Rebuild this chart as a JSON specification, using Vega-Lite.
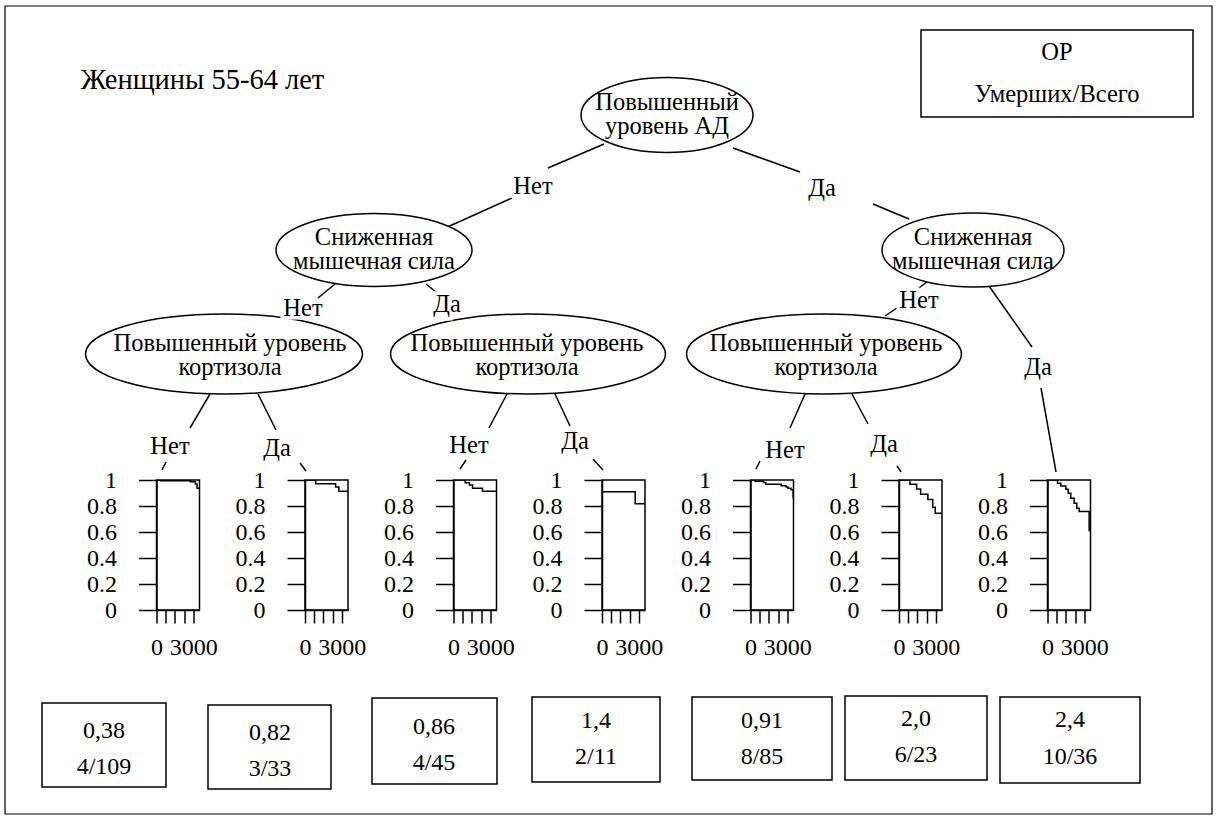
{
  "$schema": "https://vega.github.io/schema/vega-lite/v6.json",
  "padding": 0,
  "background": "white",
  "bounds": "flush",
  "spacing": 105.5,
  "config": {
    "view": {"stroke": null},
    "font": "Liberation Serif",
    "text": {"font": "Liberation Serif"},
    "axis": {
      "labelFont": "Liberation Serif",
      "labelFontSize": 24,
      "labelColor": "black",
      "tickColor": "black",
      "domainColor": "black",
      "tickWidth": 1.5,
      "domainWidth": 1.5,
      "grid": false,
      "labelFlush": false,
      "labelOverlap": false,
      "labelBound": false
    }
  },
  "datasets": {
    "edges": [
      {"x": 604, "y": 144, "x2": 548, "y2": 168},
      {"x": 512, "y": 198, "x2": 443, "y2": 229},
      {"x": 733, "y": 148, "x2": 800, "y2": 172},
      {"x": 873, "y": 204, "x2": 909, "y2": 219},
      {"x": 335, "y": 284, "x2": 318, "y2": 298},
      {"x": 426, "y": 284, "x2": 441, "y2": 296},
      {"x": 932, "y": 278, "x2": 915, "y2": 291},
      {"x": 897, "y": 308, "x2": 885, "y2": 316},
      {"x": 989, "y": 286, "x2": 1032, "y2": 347},
      {"x": 1041, "y": 388, "x2": 1056, "y2": 472},
      {"x": 210, "y": 394, "x2": 190, "y2": 428},
      {"x": 166, "y": 462, "x2": 162, "y2": 470},
      {"x": 258, "y": 394, "x2": 276, "y2": 430},
      {"x": 300, "y": 463, "x2": 306, "y2": 471},
      {"x": 507, "y": 394, "x2": 489, "y2": 428},
      {"x": 466, "y": 460, "x2": 460, "y2": 469},
      {"x": 555, "y": 394, "x2": 570, "y2": 426},
      {"x": 593, "y": 459, "x2": 603, "y2": 470},
      {"x": 805, "y": 394, "x2": 790, "y2": 428},
      {"x": 760, "y": 461, "x2": 756, "y2": 469},
      {"x": 852, "y": 394, "x2": 868, "y2": 424},
      {"x": 897, "y": 466, "x2": 901, "y2": 472}
    ],
    "outlines": [
      {"id": "root", "x": 667, "y": 115},
      {"id": "sila_net", "x": 374, "y": 250},
      {"id": "sila_da", "x": 973, "y": 250},
      {"id": "kort_1", "x": 224, "y": 354},
      {"id": "kort_2", "x": 528, "y": 354},
      {"id": "kort_3", "x": 824, "y": 354},
      {"id": "legend", "x": 1057, "y": 73.5},
      {"id": "b1", "x": 104, "y": 745},
      {"id": "b2", "x": 269.5, "y": 747},
      {"id": "b3", "x": 434.5, "y": 741},
      {"id": "b4", "x": 596, "y": 739.5},
      {"id": "b5", "x": 762, "y": 738.5},
      {"id": "b6", "x": 916, "y": 738},
      {"id": "b7", "x": 1070, "y": 740}
    ],
    "labels": [
      {"kind": "title", "text": "Женщины 55-64 лет", "x": 202.5, "y": 80},
      {"kind": "legend", "text": "ОР", "x": 1057, "y": 53},
      {"kind": "legend", "text": "Умерших/Всего", "x": 1057, "y": 95},
      {"kind": "node", "text": "Повышенный", "x": 667, "y": 103},
      {"kind": "node", "text": "уровень АД", "x": 667, "y": 127},
      {"kind": "node", "text": "Сниженная", "x": 374, "y": 238},
      {"kind": "node", "text": "мышечная сила", "x": 374, "y": 262},
      {"kind": "node", "text": "Сниженная", "x": 973, "y": 238},
      {"kind": "node", "text": "мышечная сила", "x": 973, "y": 262},
      {"kind": "node", "text": "Повышенный уровень", "x": 230, "y": 344},
      {"kind": "node", "text": "кортизола", "x": 230, "y": 368},
      {"kind": "node", "text": "Повышенный уровень", "x": 527, "y": 344},
      {"kind": "node", "text": "кортизола", "x": 527, "y": 368},
      {"kind": "node", "text": "Повышенный уровень", "x": 826, "y": 344},
      {"kind": "node", "text": "кортизола", "x": 826, "y": 368},
      {"kind": "edge", "text": "Нет", "x": 533, "y": 187},
      {"kind": "edge", "text": "Да", "x": 822, "y": 189},
      {"kind": "edge", "text": "Нет", "x": 303, "y": 309},
      {"kind": "edge", "text": "Да", "x": 447, "y": 305},
      {"kind": "edge", "text": "Нет", "x": 919, "y": 301},
      {"kind": "edge", "text": "Да", "x": 1038, "y": 368},
      {"kind": "edge", "text": "Нет", "x": 170, "y": 447},
      {"kind": "edge", "text": "Да", "x": 277, "y": 449},
      {"kind": "edge", "text": "Нет", "x": 469, "y": 446},
      {"kind": "edge", "text": "Да", "x": 575, "y": 442},
      {"kind": "edge", "text": "Нет", "x": 785, "y": 451},
      {"kind": "edge", "text": "Да", "x": 884, "y": 445},
      {"kind": "box", "text": "0,38", "x": 104, "y": 731},
      {"kind": "box", "text": "4/109", "x": 104, "y": 767},
      {"kind": "box", "text": "0,82", "x": 270, "y": 733},
      {"kind": "box", "text": "3/33", "x": 270, "y": 769},
      {"kind": "box", "text": "0,86", "x": 434, "y": 727},
      {"kind": "box", "text": "4/45", "x": 434, "y": 763},
      {"kind": "box", "text": "1,4", "x": 596, "y": 721},
      {"kind": "box", "text": "2/11", "x": 596, "y": 757},
      {"kind": "box", "text": "0,91", "x": 762, "y": 721},
      {"kind": "box", "text": "8/85", "x": 762, "y": 757},
      {"kind": "box", "text": "2,0", "x": 916, "y": 719},
      {"kind": "box", "text": "6/23", "x": 916, "y": 755},
      {"kind": "box", "text": "2,4", "x": 1070, "y": 720},
      {"kind": "box", "text": "10/36", "x": 1070, "y": 757}
    ],
    "km": [
      {"g": 1, "t": 0, "s": 1}, {"g": 1, "t": 320, "s": 0.995}, {"g": 1, "t": 2760, "s": 0.987},
      {"g": 1, "t": 3165, "s": 0.969}, {"g": 1, "t": 3300, "s": 0.936}, {"g": 1, "t": 3500, "s": 0.936},
      {"g": 2, "t": 0, "s": 1}, {"g": 2, "t": 870, "s": 0.972}, {"g": 2, "t": 2490, "s": 0.946},
      {"g": 2, "t": 2760, "s": 0.913}, {"g": 2, "t": 3500, "s": 0.913},
      {"g": 3, "t": 0, "s": 1}, {"g": 3, "t": 950, "s": 0.979}, {"g": 3, "t": 1300, "s": 0.962},
      {"g": 3, "t": 1550, "s": 0.936}, {"g": 3, "t": 2360, "s": 0.914}, {"g": 3, "t": 3500, "s": 0.914},
      {"g": 4, "t": 0, "s": 1}, {"g": 4, "t": 20, "s": 0.909}, {"g": 4, "t": 2700, "s": 0.818},
      {"g": 4, "t": 3500, "s": 0.818},
      {"g": 5, "t": 0, "s": 1}, {"g": 5, "t": 380, "s": 0.99}, {"g": 5, "t": 1050, "s": 0.98},
      {"g": 5, "t": 1250, "s": 0.968}, {"g": 5, "t": 2500, "s": 0.956}, {"g": 5, "t": 2900, "s": 0.946},
      {"g": 5, "t": 3050, "s": 0.936}, {"g": 5, "t": 3300, "s": 0.925}, {"g": 5, "t": 3470, "s": 0.86},
      {"g": 6, "t": 0, "s": 1}, {"g": 6, "t": 890, "s": 0.967}, {"g": 6, "t": 1435, "s": 0.93},
      {"g": 6, "t": 1760, "s": 0.89}, {"g": 6, "t": 2350, "s": 0.85}, {"g": 6, "t": 2750, "s": 0.79},
      {"g": 6, "t": 2950, "s": 0.745}, {"g": 6, "t": 3500, "s": 0.745},
      {"g": 7, "t": 0, "s": 1}, {"g": 7, "t": 814, "s": 0.975}, {"g": 7, "t": 1085, "s": 0.954},
      {"g": 7, "t": 1492, "s": 0.929}, {"g": 7, "t": 1682, "s": 0.898}, {"g": 7, "t": 1899, "s": 0.86},
      {"g": 7, "t": 2170, "s": 0.822}, {"g": 7, "t": 2387, "s": 0.783}, {"g": 7, "t": 2578, "s": 0.758},
      {"g": 7, "t": 3391, "s": 0.605}
    ]
  },
  "hconcat": [
    {
      "width": 45.5,
      "height": 130,
      "encoding": {
        "x": {"field": "x", "type": "quantitative", "axis": null,
              "scale": {"domain": [5, 50.5], "nice": false, "zero": false}},
        "y": {"field": "y", "type": "quantitative", "axis": null,
              "scale": {"domain": [480, 610], "nice": false, "zero": false, "reverse": true}}
      },
      "layer": [
        {
          "data": {"values": [{"x": 609, "y": 410}]},
          "mark": {"type": "point", "shape": "M-609,-410H609V410H-609Z", "size": 4,
                   "filled": true, "fill": "white", "fillOpacity": 1, "strokeOpacity": 0, "opacity": 1}
        },
        {
          "data": {"values": [{"x": 608.5, "y": 410}]},
          "mark": {"type": "point", "shape": "M-603.5,-404H603.5V404H-603.5Z", "size": 4,
                   "filled": false, "fill": "transparent", "stroke": "black", "strokeWidth": 1.2, "opacity": 1}
        },
        {
          "data": {"name": "edges"},
          "mark": {"type": "rule", "color": "black", "strokeWidth": 1.5},
          "encoding": {"x2": {"field": "x2"}, "y2": {"field": "y2"}}
        },
        {
          "data": {"name": "outlines"},
          "mark": {"type": "point", "filled": false, "fill": "white", "fillOpacity": 1,
                   "stroke": "black", "strokeWidth": 1.5, "opacity": 1, "size": 4},
          "encoding": {
            "shape": {
              "field": "id", "type": "nominal", "legend": null,
              "scale": {
                "domain": ["root", "sila_net", "sila_da", "kort_1", "kort_2", "kort_3",
                           "legend", "b1", "b2", "b3", "b4", "b5", "b6", "b7"],
                "range": [
                  "M-86,0A86,37.5,0,1,1,86,0A86,37.5,0,1,1,-86,0Z",
                  "M-98,0A98,36.5,0,1,1,98,0A98,36.5,0,1,1,-98,0Z",
                  "M-91,0A91,37,0,1,1,91,0A91,37,0,1,1,-91,0Z",
                  "M-138.5,0A138.5,40,0,1,1,138.5,0A138.5,40,0,1,1,-138.5,0Z",
                  "M-137.5,0A137.5,40,0,1,1,137.5,0A137.5,40,0,1,1,-137.5,0Z",
                  "M-137.5,0A137.5,40,0,1,1,137.5,0A137.5,40,0,1,1,-137.5,0Z",
                  "M-136,-43.5H136V43.5H-136Z",
                  "M-62,-42H62V42H-62Z",
                  "M-61.5,-42H61.5V42H-61.5Z",
                  "M-62.5,-43H62.5V43H-62.5Z",
                  "M-64,-42.5H64V42.5H-64Z",
                  "M-70,-41.5H70V41.5H-70Z",
                  "M-71,-42H71V42H-71Z",
                  "M-70,-43H70V43H-70Z"
                ]
              }
            }
          }
        },
        {
          "data": {"name": "labels"},
          "transform": [{"filter": "datum.kind == 'edge'"}],
          "mark": {"type": "text", "fontSize": 24.5,
                   "fill": "white", "stroke": "white", "strokeWidth": 7},
          "encoding": {"text": {"field": "text"}}
        },
        {
          "data": {"name": "labels"},
          "transform": [{"filter": "datum.kind == 'node' || datum.kind == 'edge' || datum.kind == 'legend'"}],
          "mark": {"type": "text", "fontSize": 24.5, "fill": "black"},
          "encoding": {"text": {"field": "text"}}
        },
        {
          "data": {"name": "labels"},
          "transform": [{"filter": "datum.kind == 'box'"}],
          "mark": {"type": "text", "fontSize": 24, "fill": "black"},
          "encoding": {"text": {"field": "text"}}
        },
        {
          "data": {"name": "labels"},
          "transform": [{"filter": "datum.kind == 'title'"}],
          "mark": {"type": "text", "fontSize": 28.5, "fill": "black"},
          "encoding": {"text": {"field": "text"}}
        }
      ]
    },
    {
      "width": 43, "height": 130,
      "view": {"stroke": "black", "strokeWidth": 1.5},
      "data": {"name": "km"},
      "transform": [{"filter": "datum.g == 1"}],
      "mark": {"type": "line", "interpolate": "step-after", "color": "black", "strokeWidth": 1.5, "clip": true},
      "encoding": {
        "x": {"field": "t", "type": "quantitative", "scale": {"domain": [0, 3500], "nice": false, "zero": false},
              "axis": {"title": null, "values": [0, 750, 1500, 2250, 3000], "format": "d",
                       "labelExpr": "datum.value == 0 || datum.value == 3000 ? datum.label : ''",
                       "tickSize": 13, "labelPadding": 12}},
        "y": {"field": "s", "type": "quantitative", "scale": {"domain": [0, 1], "nice": false},
              "axis": {"title": null, "values": [0, 0.2, 0.4, 0.6, 0.8, 1], "format": "~g",
                       "tickSize": 18, "labelPadding": 22}}
      }
    },
    {
      "width": 43, "height": 130,
      "view": {"stroke": "black", "strokeWidth": 1.5},
      "data": {"name": "km"},
      "transform": [{"filter": "datum.g == 2"}],
      "mark": {"type": "line", "interpolate": "step-after", "color": "black", "strokeWidth": 1.5, "clip": true},
      "encoding": {
        "x": {"field": "t", "type": "quantitative", "scale": {"domain": [0, 3500], "nice": false, "zero": false},
              "axis": {"title": null, "values": [0, 750, 1500, 2250, 3000], "format": "d",
                       "labelExpr": "datum.value == 0 || datum.value == 3000 ? datum.label : ''",
                       "tickSize": 13, "labelPadding": 12}},
        "y": {"field": "s", "type": "quantitative", "scale": {"domain": [0, 1], "nice": false},
              "axis": {"title": null, "values": [0, 0.2, 0.4, 0.6, 0.8, 1], "format": "~g",
                       "tickSize": 18, "labelPadding": 22}}
      }
    },
    {
      "width": 43, "height": 130,
      "view": {"stroke": "black", "strokeWidth": 1.5},
      "data": {"name": "km"},
      "transform": [{"filter": "datum.g == 3"}],
      "mark": {"type": "line", "interpolate": "step-after", "color": "black", "strokeWidth": 1.5, "clip": true},
      "encoding": {
        "x": {"field": "t", "type": "quantitative", "scale": {"domain": [0, 3500], "nice": false, "zero": false},
              "axis": {"title": null, "values": [0, 750, 1500, 2250, 3000], "format": "d",
                       "labelExpr": "datum.value == 0 || datum.value == 3000 ? datum.label : ''",
                       "tickSize": 13, "labelPadding": 12}},
        "y": {"field": "s", "type": "quantitative", "scale": {"domain": [0, 1], "nice": false},
              "axis": {"title": null, "values": [0, 0.2, 0.4, 0.6, 0.8, 1], "format": "~g",
                       "tickSize": 18, "labelPadding": 22}}
      }
    },
    {
      "width": 43, "height": 130,
      "view": {"stroke": "black", "strokeWidth": 1.5},
      "data": {"name": "km"},
      "transform": [{"filter": "datum.g == 4"}],
      "mark": {"type": "line", "interpolate": "step-after", "color": "black", "strokeWidth": 1.5, "clip": true},
      "encoding": {
        "x": {"field": "t", "type": "quantitative", "scale": {"domain": [0, 3500], "nice": false, "zero": false},
              "axis": {"title": null, "values": [0, 750, 1500, 2250, 3000], "format": "d",
                       "labelExpr": "datum.value == 0 || datum.value == 3000 ? datum.label : ''",
                       "tickSize": 13, "labelPadding": 12}},
        "y": {"field": "s", "type": "quantitative", "scale": {"domain": [0, 1], "nice": false},
              "axis": {"title": null, "values": [0, 0.2, 0.4, 0.6, 0.8, 1], "format": "~g",
                       "tickSize": 18, "labelPadding": 22}}
      }
    },
    {
      "width": 43, "height": 130,
      "view": {"stroke": "black", "strokeWidth": 1.5},
      "data": {"name": "km"},
      "transform": [{"filter": "datum.g == 5"}],
      "mark": {"type": "line", "interpolate": "step-after", "color": "black", "strokeWidth": 1.5, "clip": true},
      "encoding": {
        "x": {"field": "t", "type": "quantitative", "scale": {"domain": [0, 3500], "nice": false, "zero": false},
              "axis": {"title": null, "values": [0, 750, 1500, 2250, 3000], "format": "d",
                       "labelExpr": "datum.value == 0 || datum.value == 3000 ? datum.label : ''",
                       "tickSize": 13, "labelPadding": 12}},
        "y": {"field": "s", "type": "quantitative", "scale": {"domain": [0, 1], "nice": false},
              "axis": {"title": null, "values": [0, 0.2, 0.4, 0.6, 0.8, 1], "format": "~g",
                       "tickSize": 18, "labelPadding": 22}}
      }
    },
    {
      "width": 43, "height": 130,
      "view": {"stroke": "black", "strokeWidth": 1.5},
      "data": {"name": "km"},
      "transform": [{"filter": "datum.g == 6"}],
      "mark": {"type": "line", "interpolate": "step-after", "color": "black", "strokeWidth": 1.5, "clip": true},
      "encoding": {
        "x": {"field": "t", "type": "quantitative", "scale": {"domain": [0, 3500], "nice": false, "zero": false},
              "axis": {"title": null, "values": [0, 750, 1500, 2250, 3000], "format": "d",
                       "labelExpr": "datum.value == 0 || datum.value == 3000 ? datum.label : ''",
                       "tickSize": 13, "labelPadding": 12}},
        "y": {"field": "s", "type": "quantitative", "scale": {"domain": [0, 1], "nice": false},
              "axis": {"title": null, "values": [0, 0.2, 0.4, 0.6, 0.8, 1], "format": "~g",
                       "tickSize": 18, "labelPadding": 22}}
      }
    },
    {
      "width": 43, "height": 130,
      "view": {"stroke": "black", "strokeWidth": 1.5},
      "data": {"name": "km"},
      "transform": [{"filter": "datum.g == 7"}],
      "mark": {"type": "line", "interpolate": "step-after", "color": "black", "strokeWidth": 1.5, "clip": true},
      "encoding": {
        "x": {"field": "t", "type": "quantitative", "scale": {"domain": [0, 3500], "nice": false, "zero": false},
              "axis": {"title": null, "values": [0, 750, 1500, 2250, 3000], "format": "d",
                       "labelExpr": "datum.value == 0 || datum.value == 3000 ? datum.label : ''",
                       "tickSize": 13, "labelPadding": 12}},
        "y": {"field": "s", "type": "quantitative", "scale": {"domain": [0, 1], "nice": false},
              "axis": {"title": null, "values": [0, 0.2, 0.4, 0.6, 0.8, 1], "format": "~g",
                       "tickSize": 18, "labelPadding": 22}}
      }
    }
  ]
}
